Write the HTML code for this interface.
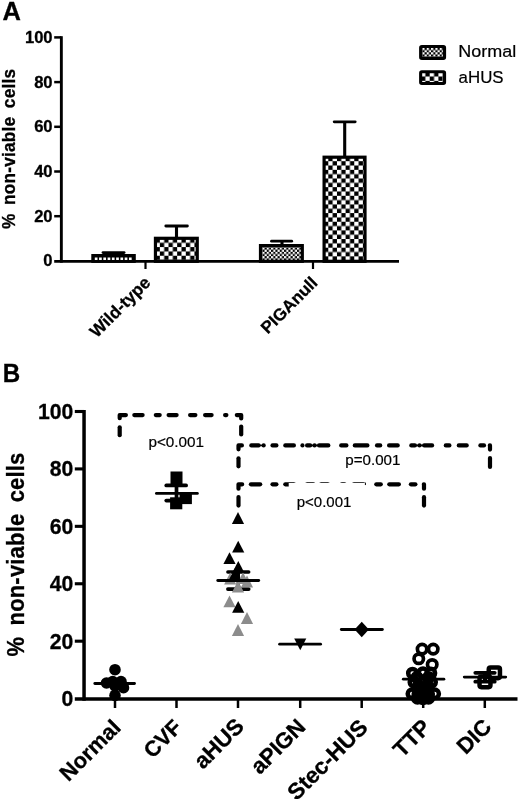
<!DOCTYPE html>
<html lang="en"><head><meta charset="utf-8"><title>Figure</title>
<style>html,body{margin:0;padding:0;background:#fff;}body{width:520px;height:799px;overflow:hidden;}svg{display:block;}text{font-family:"Liberation Sans", Arial, Helvetica, sans-serif;fill:#000;stroke:#000;stroke-width:0.2px;}.b{font-weight:bold;stroke:#000;stroke-width:0.3px;}</style>
</head><body>
<svg width="520" height="799" viewBox="0 0 520 799">
<rect x="0" y="0" width="520" height="799" fill="#fff"/>
<defs><pattern id="c2" patternUnits="userSpaceOnUse" x="168.5" y="247.1" width="8.65" height="8.65"><rect width="8.65" height="8.65" fill="#000"/><rect x="0" y="0" width="4.325" height="4.325" fill="#fff"/><rect x="4.325" y="4.325" width="4.325" height="4.325" fill="#fff"/></pattern><pattern id="f3" patternUnits="userSpaceOnUse" x="262.4" y="247.5" width="4.33" height="4.33"><rect width="4.33" height="4.33" fill="#000"/><rect x="0" y="0" width="2.165" height="2.165" fill="#fff"/><rect x="2.165" y="2.165" width="2.165" height="2.165" fill="#fff"/></pattern><pattern id="c4" patternUnits="userSpaceOnUse" x="328.3" y="161.2" width="8.65" height="8.65"><rect width="8.65" height="8.65" fill="#000"/><rect x="0" y="0" width="4.325" height="4.325" fill="#fff"/><rect x="4.325" y="4.325" width="4.325" height="4.325" fill="#fff"/></pattern><pattern id="fl" patternUnits="userSpaceOnUse" x="422.4" y="47.95" width="4.33" height="4.33"><rect width="4.33" height="4.33" fill="#000"/><rect x="0" y="0" width="2.165" height="2.165" fill="#fff"/><rect x="2.165" y="2.165" width="2.165" height="2.165" fill="#fff"/></pattern><pattern id="cl" patternUnits="userSpaceOnUse" x="421.0" y="72.15" width="8.7" height="8.7"><rect width="8.7" height="8.7" fill="#000"/><rect x="0" y="0" width="4.35" height="4.35" fill="#fff"/><rect x="4.35" y="4.35" width="4.35" height="4.35" fill="#fff"/></pattern></defs>
<g id="panelA">
<text class="b" font-size="26" transform="translate(2.5,19.6) scale(0.98,1)">A</text>
<text class="b" font-size="17.3" text-anchor="end" transform="translate(52.6,266.40) scale(0.96,1)">0</text>
<line x1="54.2" y1="216.20" x2="61.35" y2="216.20" stroke="#000" stroke-width="2.5"/>
<text class="b" font-size="17.3" text-anchor="end" transform="translate(52.6,221.70) scale(0.96,1)">20</text>
<line x1="54.2" y1="171.50" x2="61.35" y2="171.50" stroke="#000" stroke-width="2.5"/>
<text class="b" font-size="17.3" text-anchor="end" transform="translate(52.6,177.00) scale(0.96,1)">40</text>
<line x1="54.2" y1="126.80" x2="61.35" y2="126.80" stroke="#000" stroke-width="2.5"/>
<text class="b" font-size="17.3" text-anchor="end" transform="translate(52.6,132.30) scale(0.96,1)">60</text>
<line x1="54.2" y1="82.10" x2="61.35" y2="82.10" stroke="#000" stroke-width="2.5"/>
<text class="b" font-size="17.3" text-anchor="end" transform="translate(52.6,87.60) scale(0.96,1)">80</text>
<line x1="54.2" y1="37.40" x2="61.35" y2="37.40" stroke="#000" stroke-width="2.5"/>
<text class="b" font-size="17.3" text-anchor="end" transform="translate(52.6,42.90) scale(0.96,1)">100</text>
<text class="b" style="word-spacing:3.4px;letter-spacing:0.22px;" font-size="17.1" transform="translate(14.8,228.9) rotate(-90) scale(1.008,1.06)">% non-viable cells</text>
<line x1="113.50" y1="255.00" x2="113.50" y2="252.55" stroke="#000" stroke-width="3.1"/>
<line x1="103.0" y1="252.55" x2="124.10000000000001" y2="252.55" stroke="#000" stroke-width="2.8" stroke-linecap="round"/>
<rect x="92.90" y="255.60" width="41.30" height="5.70" fill="#000" stroke="#000" stroke-width="3.2"/>
<line x1="176.50" y1="237.70" x2="176.50" y2="226.00" stroke="#000" stroke-width="3.1"/>
<line x1="165.8" y1="226.00" x2="187.39999999999998" y2="226.00" stroke="#000" stroke-width="2.8" stroke-linecap="round"/>
<rect x="155.45" y="238.30" width="41.80" height="23.00" fill="url(#c2)" stroke="#000" stroke-width="3.2"/>
<line x1="282.00" y1="245.00" x2="282.00" y2="241.20" stroke="#000" stroke-width="3.1"/>
<line x1="271.5" y1="241.20" x2="291.7" y2="241.20" stroke="#000" stroke-width="2.8" stroke-linecap="round"/>
<rect x="260.50" y="245.60" width="41.80" height="15.70" fill="url(#f3)" stroke="#000" stroke-width="3.2"/>
<line x1="344.70" y1="156.60" x2="344.70" y2="121.80" stroke="#000" stroke-width="3.1"/>
<line x1="334.2" y1="121.80" x2="355.2" y2="121.80" stroke="#000" stroke-width="2.8" stroke-linecap="round"/>
<rect x="324.10" y="157.20" width="40.90" height="104.10" fill="url(#c4)" stroke="#000" stroke-width="3.2"/>
<rect x="94.80" y="257.5" width="2.7" height="2.7" fill="#fff"/>
<rect x="99.07" y="257.5" width="2.7" height="2.7" fill="#fff"/>
<rect x="103.34" y="257.5" width="2.7" height="2.7" fill="#fff"/>
<rect x="107.61" y="257.5" width="2.7" height="2.7" fill="#fff"/>
<rect x="111.88" y="257.5" width="2.7" height="2.7" fill="#fff"/>
<rect x="116.15" y="257.5" width="2.7" height="2.7" fill="#fff"/>
<rect x="120.42" y="257.5" width="2.7" height="2.7" fill="#fff"/>
<rect x="124.69" y="257.5" width="2.7" height="2.7" fill="#fff"/>
<rect x="128.96" y="257.5" width="2.7" height="2.7" fill="#fff"/>
<line x1="61.35" y1="36.20" x2="61.35" y2="262.65000000000003" stroke="#000" stroke-width="2.9"/>
<line x1="54.2" y1="261.3" x2="399" y2="261.3" stroke="#000" stroke-width="2.7"/>
<line x1="145.5" y1="261.3" x2="145.5" y2="269" stroke="#000" stroke-width="2.2"/>
<line x1="313" y1="261.3" x2="313" y2="269" stroke="#000" stroke-width="2.2"/>
<text class="b" font-size="17.27" transform="translate(96.7,338.5) rotate(-45)">Wild-type</text>
<text class="b" font-size="16.99" transform="translate(267.8,334.5) rotate(-45)">PIGAnull</text>
<rect x="420.65" y="46.45" width="23.9" height="11.9" rx="1.2" fill="url(#fl)" stroke="#000" stroke-width="3.1"/>
<rect x="420.65" y="71.75" width="23.9" height="11.8" rx="1.2" fill="url(#cl)" stroke="#000" stroke-width="3.1"/>
<text font-size="16.65" transform="translate(458.2,57.0) scale(1.081,1)">Normal</text>
<text font-size="17.1" transform="translate(458.6,83.2) scale(0.987,1)">aHUS</text>
</g>
<g id="panelB">
<text class="b" font-size="26" transform="translate(2.65,382) scale(0.93,1)">B</text>
<text class="b" font-size="22.3" text-anchor="end" transform="translate(73.3,706.10) scale(0.95,1)">0</text>
<line x1="74.8" y1="641.18" x2="84.05" y2="641.18" stroke="#000" stroke-width="3.1"/>
<text class="b" font-size="22.3" text-anchor="end" transform="translate(73.3,648.68) scale(0.95,1)">20</text>
<line x1="74.8" y1="583.76" x2="84.05" y2="583.76" stroke="#000" stroke-width="3.1"/>
<text class="b" font-size="22.3" text-anchor="end" transform="translate(73.3,591.26) scale(0.95,1)">40</text>
<line x1="74.8" y1="526.34" x2="84.05" y2="526.34" stroke="#000" stroke-width="3.1"/>
<text class="b" font-size="22.3" text-anchor="end" transform="translate(73.3,533.84) scale(0.95,1)">60</text>
<line x1="74.8" y1="468.92" x2="84.05" y2="468.92" stroke="#000" stroke-width="3.1"/>
<text class="b" font-size="22.3" text-anchor="end" transform="translate(73.3,476.42) scale(0.95,1)">80</text>
<line x1="74.8" y1="411.50" x2="84.05" y2="411.50" stroke="#000" stroke-width="3.1"/>
<text class="b" font-size="22.3" text-anchor="end" transform="translate(73.3,419.00) scale(0.95,1)">100</text>
<text class="b" style="word-spacing:5px;letter-spacing:0.2px;" font-size="22.0" transform="translate(24.0,656.5) rotate(-90) scale(0.999,1.05)">% non-viable cells</text>
<circle cx="115" cy="669.7" r="5.8" fill="#000"/>
<circle cx="106.5" cy="683" r="5.8" fill="#000"/>
<circle cx="112.7" cy="681.5" r="5.8" fill="#000"/>
<circle cx="121" cy="681.5" r="5.8" fill="#000"/>
<circle cx="123.5" cy="687.7" r="5.8" fill="#000"/>
<circle cx="115" cy="686" r="5.8" fill="#000"/>
<circle cx="115" cy="695.4" r="5.8" fill="#000"/>
<line x1="94.80" y1="683.50" x2="134.50" y2="683.50" stroke="#000" stroke-width="2.8" stroke-linecap="round"/>
<rect x="170.5" y="471.5" width="12" height="12.8" fill="#000"/>
<rect x="179.6" y="492.3" width="12.3" height="11.8" fill="#000"/>
<rect x="170.1" y="497.3" width="12.2" height="12" fill="#000"/>
<line x1="176.50" y1="485.40" x2="176.50" y2="500.60" stroke="#000" stroke-width="3.7" stroke-linecap="butt"/>
<line x1="166.30" y1="485.40" x2="186.10" y2="485.40" stroke="#000" stroke-width="3.8" stroke-linecap="round"/>
<line x1="166.30" y1="500.60" x2="186.10" y2="500.60" stroke="#000" stroke-width="3.8" stroke-linecap="round"/>
<line x1="156.40" y1="493.40" x2="197.40" y2="493.40" stroke="#000" stroke-width="2.8" stroke-linecap="round"/>
<line x1="238.30" y1="572.00" x2="238.30" y2="589.10" stroke="#000" stroke-width="3.4" stroke-linecap="butt"/>
<line x1="227.90" y1="572.10" x2="248.70" y2="572.10" stroke="#000" stroke-width="3.5" stroke-linecap="round"/>
<line x1="227.90" y1="589.10" x2="248.70" y2="589.10" stroke="#000" stroke-width="3.7" stroke-linecap="round"/>
<polygon points="230.2,572.5 236.3,584.4 224.1,584.4" fill="#8c8c8c"/>
<polygon points="243.0,572.2 249.1,584.1 236.9,584.1" fill="#8c8c8c"/>
<polygon points="247.0,575.5 253.1,587.4 240.9,587.4" fill="#8c8c8c"/>
<polygon points="238.0,512.0 244.1,523.9 231.9,523.9" fill="#000"/>
<polygon points="238.2,540.7 244.3,552.6 232.1,552.6" fill="#000"/>
<polygon points="229.5,552.2 235.6,564.1 223.4,564.1" fill="#000"/>
<polygon points="238.3,560.9 244.4,572.8 232.2,572.8" fill="#000"/>
<polygon points="234.8,568.3 240.9,580.2 228.7,580.2" fill="#000"/>
<polygon points="238.0,580.7 244.1,592.6 231.9,592.6" fill="#8c8c8c"/>
<polygon points="229.5,595.4 235.6,607.3 223.4,607.3" fill="#8c8c8c"/>
<polygon points="238.2,600.9 244.3,612.8 232.1,612.8" fill="#000"/>
<polygon points="247.0,612.1 253.1,624.0 240.9,624.0" fill="#8c8c8c"/>
<polygon points="238.0,624.0 244.1,635.9 231.9,635.9" fill="#8c8c8c"/>
<line x1="217.80" y1="580.50" x2="258.70" y2="580.50" stroke="#000" stroke-width="2.9" stroke-linecap="round"/>
<line x1="279.60" y1="644.20" x2="320.60" y2="644.20" stroke="#000" stroke-width="2.8" stroke-linecap="round"/>
<polygon points="294.2,638.6 306.3,638.6 300.25,650.2" fill="#000"/>
<line x1="341.30" y1="629.50" x2="382.40" y2="629.50" stroke="#000" stroke-width="2.8" stroke-linecap="round"/>
<polygon points="361.75,621.8 368.9,629.5 361.75,637.2 354.6,629.5" fill="#000"/>
<circle cx="422.1" cy="649.1" r="4.7" fill="none" stroke="#000" stroke-width="3.7"/>
<circle cx="433.2" cy="649.1" r="4.7" fill="none" stroke="#000" stroke-width="3.7"/>
<circle cx="418.75" cy="658.75" r="4.7" fill="none" stroke="#000" stroke-width="3.7"/>
<circle cx="432.2" cy="664.5" r="4.7" fill="none" stroke="#000" stroke-width="3.7"/>
<circle cx="412.5" cy="673.2" r="4.3" fill="none" stroke="#000" stroke-width="4.5"/>
<circle cx="423" cy="672.7" r="4.3" fill="none" stroke="#000" stroke-width="4.5"/>
<circle cx="430.8" cy="673" r="4.3" fill="none" stroke="#000" stroke-width="4.5"/>
<circle cx="417" cy="677.5" r="4.3" fill="none" stroke="#000" stroke-width="4.5"/>
<circle cx="428.5" cy="677.5" r="4.3" fill="none" stroke="#000" stroke-width="4.5"/>
<circle cx="414" cy="682" r="4.3" fill="none" stroke="#000" stroke-width="4.5"/>
<circle cx="423" cy="682" r="4.3" fill="none" stroke="#000" stroke-width="4.5"/>
<circle cx="431.5" cy="682" r="4.3" fill="none" stroke="#000" stroke-width="4.5"/>
<circle cx="418.5" cy="686" r="4.3" fill="none" stroke="#000" stroke-width="4.5"/>
<circle cx="427.5" cy="686" r="4.3" fill="none" stroke="#000" stroke-width="4.5"/>
<circle cx="423" cy="690" r="4.3" fill="none" stroke="#000" stroke-width="4.5"/>
<circle cx="412" cy="693.8" r="4.3" fill="none" stroke="#000" stroke-width="4.5"/>
<circle cx="434.6" cy="693.8" r="4.3" fill="none" stroke="#000" stroke-width="4.5"/>
<circle cx="418" cy="694" r="4.3" fill="none" stroke="#000" stroke-width="4.5"/>
<circle cx="428.5" cy="694" r="4.3" fill="none" stroke="#000" stroke-width="4.5"/>
<circle cx="423" cy="695.8" r="4.3" fill="none" stroke="#000" stroke-width="4.5"/>
<circle cx="417.5" cy="698.2" r="4.3" fill="none" stroke="#000" stroke-width="4.5"/>
<circle cx="428.5" cy="698.2" r="4.3" fill="none" stroke="#000" stroke-width="4.5"/>
<circle cx="423" cy="698.6" r="4.3" fill="none" stroke="#000" stroke-width="4.5"/>
<line x1="403.30" y1="679.20" x2="443.90" y2="679.20" stroke="#000" stroke-width="2.8" stroke-linecap="round"/>
<line x1="485.00" y1="672.50" x2="485.00" y2="682.00" stroke="#000" stroke-width="4" stroke-linecap="butt"/>
<line x1="475.30" y1="672.80" x2="494.70" y2="672.80" stroke="#000" stroke-width="3.8" stroke-linecap="round"/>
<line x1="475.30" y1="681.70" x2="494.70" y2="681.70" stroke="#000" stroke-width="3.8" stroke-linecap="round"/>
<rect x="488.75" y="667.45" width="11.2" height="10.7" rx="1.8" fill="none" stroke="#000" stroke-width="4.5"/>
<rect x="479.55" y="676.45" width="10.9" height="10.7" rx="1.8" fill="none" stroke="#000" stroke-width="4.5"/>
<line x1="464.30" y1="677.10" x2="505.70" y2="677.10" stroke="#000" stroke-width="2.9" stroke-linecap="round"/>
<line x1="84.05" y1="409.95" x2="84.05" y2="700.70" stroke="#000" stroke-width="3.5" stroke-linecap="butt"/>
<line x1="74.8" y1="699.0" x2="517.5" y2="699.0" stroke="#000" stroke-width="3.3"/>
<line x1="115.00" y1="699.00" x2="115.00" y2="708.00" stroke="#000" stroke-width="2.5" stroke-linecap="butt"/>
<line x1="176.50" y1="699.00" x2="176.50" y2="708.00" stroke="#000" stroke-width="2.5" stroke-linecap="butt"/>
<line x1="238.00" y1="699.00" x2="238.00" y2="708.00" stroke="#000" stroke-width="2.5" stroke-linecap="butt"/>
<line x1="300.20" y1="699.00" x2="300.20" y2="708.00" stroke="#000" stroke-width="2.5" stroke-linecap="butt"/>
<line x1="361.70" y1="699.00" x2="361.70" y2="708.00" stroke="#000" stroke-width="2.5" stroke-linecap="butt"/>
<line x1="423.20" y1="699.00" x2="423.20" y2="708.00" stroke="#000" stroke-width="2.5" stroke-linecap="butt"/>
<line x1="484.80" y1="699.00" x2="484.80" y2="708.00" stroke="#000" stroke-width="2.5" stroke-linecap="butt"/>
<text class="b" font-size="21.92" transform="translate(68.6,782.3) rotate(-45)">Normal</text>
<text class="b" font-size="21.66" transform="translate(152.5,759.25) rotate(-45)">CVF</text>
<text class="b" font-size="22.48" transform="translate(203.0,770.0) rotate(-45)">aHUS</text>
<text class="b" font-size="22.19" transform="translate(259.75,775.25) rotate(-45)">aPIGN</text>
<text class="b" font-size="22.57" transform="translate(296.5,801.5) rotate(-45)">Stec-HUS</text>
<text class="b" font-size="22.37" transform="translate(402.25,758.5) rotate(-45)">TTP</text>
<text class="b" font-size="22.26" transform="translate(465.75,755.25) rotate(-45)">DIC</text>
<line x1="119.70" y1="427.30" x2="119.70" y2="435.20" stroke="#000" stroke-width="4.2" stroke-linecap="round"/>
<polyline points="125.90,415.10 119.70,415.10 119.70,418.20" fill="none" stroke="#000" stroke-width="4.2" stroke-linecap="round" stroke-linejoin="round"/>
<line x1="134.30" y1="415.10" x2="142.60" y2="415.10" stroke="#000" stroke-width="4.2" stroke-linecap="round"/>
<line x1="155.80" y1="415.10" x2="159.70" y2="415.10" stroke="#000" stroke-width="4.2" stroke-linecap="round"/>
<line x1="168.60" y1="415.10" x2="176.60" y2="415.10" stroke="#000" stroke-width="4.2" stroke-linecap="round"/>
<line x1="190.10" y1="415.10" x2="195.40" y2="415.10" stroke="#000" stroke-width="4.2" stroke-linecap="round"/>
<line x1="205.10" y1="415.10" x2="211.60" y2="415.10" stroke="#000" stroke-width="4.2" stroke-linecap="round"/>
<line x1="225.10" y1="415.10" x2="226.40" y2="415.10" stroke="#000" stroke-width="4.2" stroke-linecap="round"/>
<polyline points="236.80,415.10 241.20,415.10 241.20,418.40" fill="none" stroke="#000" stroke-width="4.2" stroke-linecap="round" stroke-linejoin="round"/>
<line x1="241.20" y1="426.50" x2="241.20" y2="434.50" stroke="#000" stroke-width="4.2" stroke-linecap="round"/>
<polyline points="241.90,445.40 238.50,445.40 238.50,449.30" fill="none" stroke="#000" stroke-width="4.2" stroke-linecap="round" stroke-linejoin="round"/>
<line x1="238.50" y1="458.30" x2="238.50" y2="466.30" stroke="#000" stroke-width="4.2" stroke-linecap="round"/>
<line x1="251.30" y1="445.40" x2="258.60" y2="445.40" stroke="#000" stroke-width="4.2" stroke-linecap="round"/>
<line x1="263.64" y1="445.40" x2="263.66" y2="445.40" stroke="#000" stroke-width="4.2" stroke-linecap="round"/>
<line x1="272.50" y1="445.40" x2="276.40" y2="445.40" stroke="#000" stroke-width="4.2" stroke-linecap="round"/>
<line x1="285.30" y1="445.40" x2="293.90" y2="445.40" stroke="#000" stroke-width="4.2" stroke-linecap="round"/>
<line x1="302.44" y1="445.40" x2="302.46" y2="445.40" stroke="#000" stroke-width="4.2" stroke-linecap="round"/>
<line x1="307.10" y1="445.40" x2="310.10" y2="445.40" stroke="#000" stroke-width="4.2" stroke-linecap="round"/>
<line x1="314.54" y1="445.40" x2="314.56" y2="445.40" stroke="#000" stroke-width="4.2" stroke-linecap="round"/>
<line x1="319.10" y1="445.40" x2="328.30" y2="445.40" stroke="#000" stroke-width="4.2" stroke-linecap="round"/>
<line x1="341.20" y1="445.40" x2="346.40" y2="445.40" stroke="#000" stroke-width="4.2" stroke-linecap="round"/>
<line x1="354.80" y1="445.40" x2="367.40" y2="445.40" stroke="#000" stroke-width="4.2" stroke-linecap="round"/>
<line x1="377.00" y1="445.40" x2="380.20" y2="445.40" stroke="#000" stroke-width="4.2" stroke-linecap="round"/>
<line x1="389.10" y1="445.40" x2="397.70" y2="445.40" stroke="#000" stroke-width="4.2" stroke-linecap="round"/>
<line x1="411.30" y1="445.40" x2="414.90" y2="445.40" stroke="#000" stroke-width="4.2" stroke-linecap="round"/>
<line x1="419.49" y1="445.40" x2="419.51" y2="445.40" stroke="#000" stroke-width="4.2" stroke-linecap="round"/>
<line x1="424.20" y1="445.40" x2="432.10" y2="445.40" stroke="#000" stroke-width="4.2" stroke-linecap="round"/>
<line x1="445.80" y1="445.40" x2="449.40" y2="445.40" stroke="#000" stroke-width="4.2" stroke-linecap="round"/>
<line x1="458.80" y1="445.40" x2="466.70" y2="445.40" stroke="#000" stroke-width="4.2" stroke-linecap="round"/>
<line x1="480.40" y1="445.40" x2="484.00" y2="445.40" stroke="#000" stroke-width="4.2" stroke-linecap="round"/>
<line x1="258" y1="445.4" x2="263" y2="445.4" stroke="#000" stroke-width="1.6"/>
<line x1="310" y1="445.4" x2="319" y2="445.4" stroke="#000" stroke-width="1.8"/>
<line x1="415" y1="445.4" x2="424" y2="445.4" stroke="#000" stroke-width="1.8"/>
<polyline points="489.80,445.40 490.00,445.40 490.00,449.60" fill="none" stroke="#000" stroke-width="4.2" stroke-linecap="round" stroke-linejoin="round"/>
<line x1="490.00" y1="458.10" x2="490.00" y2="466.90" stroke="#000" stroke-width="4.2" stroke-linecap="round"/>
<polyline points="242.20,484.30 238.50,484.30 238.50,488.70" fill="none" stroke="#000" stroke-width="4.2" stroke-linecap="round" stroke-linejoin="round"/>
<line x1="238.50" y1="497.00" x2="238.50" y2="505.60" stroke="#000" stroke-width="4.2" stroke-linecap="round"/>
<line x1="250.90" y1="484.30" x2="260.20" y2="484.30" stroke="#000" stroke-width="4.2" stroke-linecap="round"/>
<line x1="272.50" y1="484.30" x2="276.40" y2="484.30" stroke="#000" stroke-width="4.2" stroke-linecap="round"/>
<line x1="285.30" y1="484.30" x2="293.90" y2="484.30" stroke="#000" stroke-width="4.2" stroke-linecap="round"/>
<line x1="307.10" y1="484.30" x2="313.40" y2="484.30" stroke="#000" stroke-width="4.2" stroke-linecap="round"/>
<line x1="321.10" y1="484.30" x2="327.90" y2="484.30" stroke="#000" stroke-width="4.2" stroke-linecap="round"/>
<line x1="341.80" y1="484.30" x2="344.50" y2="484.30" stroke="#000" stroke-width="4.2" stroke-linecap="round"/>
<line x1="353.90" y1="484.30" x2="363.50" y2="484.30" stroke="#000" stroke-width="4.2" stroke-linecap="round"/>
<line x1="376.30" y1="484.30" x2="380.80" y2="484.30" stroke="#000" stroke-width="4.2" stroke-linecap="round"/>
<line x1="389.30" y1="484.30" x2="398.90" y2="484.30" stroke="#000" stroke-width="4.2" stroke-linecap="round"/>
<line x1="410.90" y1="484.30" x2="415.40" y2="484.30" stroke="#000" stroke-width="4.2" stroke-linecap="round"/>
<polyline points="423.80,484.30 424.00,484.30 424.00,488.70" fill="none" stroke="#000" stroke-width="4.2" stroke-linecap="round" stroke-linejoin="round"/>
<line x1="424.00" y1="497.20" x2="424.00" y2="505.60" stroke="#000" stroke-width="4.2" stroke-linecap="round"/>
<rect x="288.7" y="483" width="77" height="22" fill="#fff"/>
<line x1="365.4" y1="482.6" x2="365.4" y2="485" stroke="#000" stroke-width="1"/>
<text font-size="15" transform="translate(148.4,446.5) scale(1.02,1)">p&lt;0.001</text>
<text font-size="15" transform="translate(345.3,464.8) scale(1.01,1)">p=0.001</text>
<text font-size="15" transform="translate(296.7,506.8)">p&lt;0.001</text>
</g>
</svg></body></html>
